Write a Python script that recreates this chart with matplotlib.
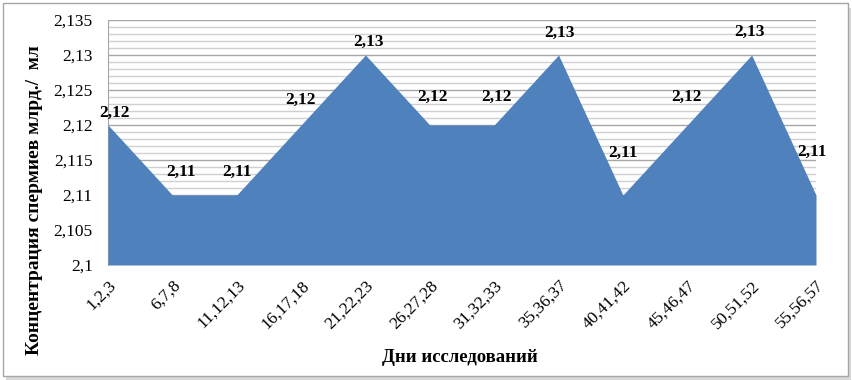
import numpy as np
from matplotlib import pyplot as plt
from matplotlib.ticker import MultipleLocator, FuncFormatter
from matplotlib.patches import Rectangle

# data
days = ["1,2,3", "6,7,8", "11,12,13", "16,17,18", "21,22,23", "26,27,28",
        "31,32,33", "35,36,37", "40,41,42", "45,46,47", "50,51,52", "55,56,57"]
values = [2.12, 2.11, 2.11, 2.12, 2.13, 2.12, 2.12, 2.13, 2.11, 2.12, 2.13, 2.11]
# label offsets in pixels (dx, dy)
label_dx = [7, 9, 0, -1, 3, 3, 2, 1, 0, -1, -2, -4]
label_dy = [12, 23, 23, 25, 13, 28, 28, 22, 42, 28, 23, 43]

plt.rcParams['font.family'] = ['Liberation Serif', 'DejaVu Serif']

fig = plt.figure(figsize=(8.52, 3.8), dpi=100)
# outer frame with a soft shadow
fig.patches.append(Rectangle((6 / 852, 0.0), 845 / 852, 372 / 380, transform=fig.transFigure,
                             facecolor='#d9d9d9', edgecolor='none', zorder=-2))
fig.patches.append(Rectangle((3 / 852, 4 / 380), 845 / 852, 373 / 380, transform=fig.transFigure,
                             facecolor='white', edgecolor='#a6a6a6', linewidth=1, zorder=-1))

ax = fig.add_axes([108 / 852, 1 - 265 / 380, 708 / 852, 245 / 380])
x = np.arange(len(values))
ax.fill_between(x, 2.1, values, color='#4f81bd', linewidth=0, zorder=3)

ax.set_xlim(0, len(values) - 1)
ax.set_ylim(2.1, 2.135)
ax.yaxis.set_major_locator(MultipleLocator(0.005))
ax.yaxis.set_minor_locator(MultipleLocator(0.001))
ax.yaxis.set_major_formatter(FuncFormatter(lambda v, p: f"{v:.3f}".rstrip('0').rstrip('.').replace('.', ',')))
ax.grid(which='major', axis='y', color='#a6a6a6', linewidth=1, zorder=0)
ax.grid(which='minor', axis='y', color='#d0d0d0', linewidth=1, zorder=0)
ax.set_xticks(x)
ax.set_xticklabels(days, rotation=45, ha='right', rotation_mode='anchor', fontsize=12.5)
ax.tick_params(axis='x', length=0, pad=9)
ax.tick_params(axis='y', which='both', length=0, labelsize=12.5, pad=11)
for s in ['top', 'right', 'bottom']:
    ax.spines[s].set_visible(False)
ax.spines['left'].set_color('#a6a6a6')

for i, v in enumerate(values):
    ax.annotate(f"{v:.2f}".replace('.', ','), (x[i], v), xytext=(label_dx[i], label_dy[i]),
                textcoords='offset pixels', ha='center', va='center',
                fontsize=12.5, fontweight='bold', zorder=5, annotation_clip=False)

fig.text(35 / 852, 1 - 200 / 380, "Концентрация спермиев млрд./  мл", rotation=90,
         ha='center', va='center', fontsize=14, fontweight='bold')
fig.text(460 / 852, 1 - 357 / 380, "Дни исследований", ha='center', va='center',
         fontsize=13.5, fontweight='bold')

fig.savefig("out.png", dpi=100)
